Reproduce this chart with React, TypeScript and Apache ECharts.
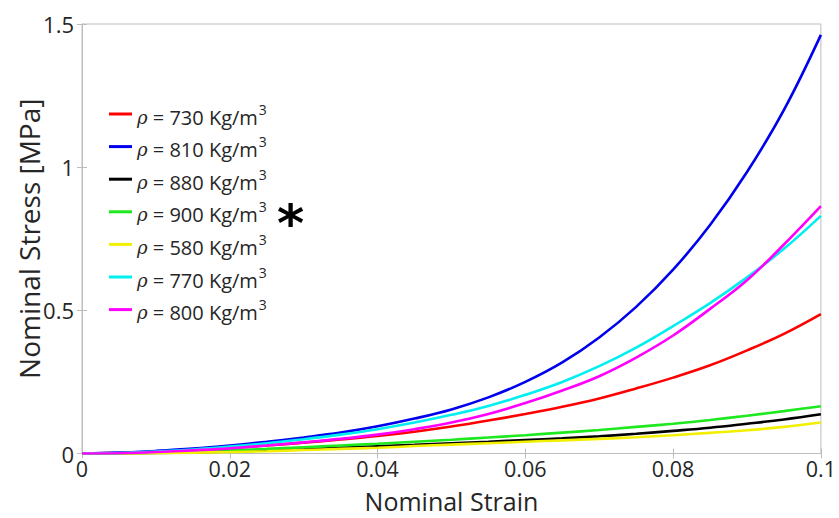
import React, { useEffect, useRef } from "react";
import * as echarts from "echarts";

const strain = [0, 0.005, 0.01, 0.015, 0.02, 0.025, 0.03, 0.035, 0.04, 0.045, 0.05, 0.055, 0.06, 0.065, 0.07, 0.075, 0.08, 0.085, 0.09, 0.095, 0.1];

const names = ["730", "810", "880", "900", "580", "770", "800"];
const colors = ["#ff0000", "#0000ee", "#000000", "#1ee81e", "#f2f000", "#00f0f0", "#ff00ff"];

const s730 = [0, 0.002, 0.006, 0.012, 0.019, 0.028, 0.038, 0.049, 0.061, 0.076, 0.094, 0.115, 0.138, 0.163, 0.192, 0.227, 0.265, 0.308, 0.36, 0.418, 0.487];
const s810 = [0, 0.003, 0.009, 0.017, 0.028, 0.041, 0.056, 0.073, 0.095, 0.122, 0.154, 0.196, 0.25, 0.318, 0.405, 0.512, 0.642, 0.798, 0.983, 1.2, 1.462];
const s880 = [0, 0.001, 0.002, 0.004, 0.007, 0.011, 0.015, 0.02, 0.025, 0.03, 0.036, 0.041, 0.047, 0.053, 0.06, 0.069, 0.079, 0.09, 0.104, 0.119, 0.137];
const s900 = [0, 0.001, 0.003, 0.007, 0.011, 0.016, 0.022, 0.028, 0.034, 0.041, 0.048, 0.056, 0.064, 0.073, 0.082, 0.093, 0.104, 0.117, 0.132, 0.148, 0.165];
const s580 = [0, 0, 0.001, 0.003, 0.005, 0.008, 0.012, 0.016, 0.02, 0.026, 0.031, 0.036, 0.041, 0.046, 0.051, 0.057, 0.064, 0.072, 0.081, 0.093, 0.108];
const s770 = [0, 0.002, 0.007, 0.014, 0.024, 0.036, 0.05, 0.066, 0.085, 0.108, 0.135, 0.166, 0.205, 0.25, 0.305, 0.37, 0.445, 0.525, 0.615, 0.715, 0.83];
const s800 = [0, 0.001, 0.005, 0.011, 0.018, 0.028, 0.039, 0.051, 0.066, 0.085, 0.108, 0.138, 0.176, 0.22, 0.27, 0.335, 0.412, 0.505, 0.605, 0.73, 0.864];

const seriesValues = [s730, s810, s880, s900, s580, s770, s800];

const xTicks = [0, 0.02, 0.04, 0.06, 0.08, 0.1];
const yTicks = [0, 0.5, 1, 1.5];

const FONT = "Open Sans";
const TXT = "#262626";
const FRAME = "#bdbdbd";

export default function App() {
  const ref = useRef<HTMLDivElement>(null);
  useEffect(() => {
    if (!ref.current) return;
    const chart = echarts.init(ref.current, null, { renderer: "svg" });
    const labelFmtX = (v: number) => {
      const t = xTicks.find((k) => Math.abs(k - v) < 1e-9);
      return t === undefined ? "" : String(t);
    };
    const labelFmtY = (v: number) => {
      const t = yTicks.find((k) => Math.abs(k - v) < 1e-9);
      return t === undefined ? "" : String(t);
    };
    const tickStyle = { show: true, inside: true, length: 5, lineStyle: { color: FRAME } };
    chart.setOption({
      animation: false,
      backgroundColor: "#ffffff",
      grid: { left: 82, right: 16, top: 24, bottom: 63, show: true, borderColor: FRAME, borderWidth: 1 },
      legend: {
        orient: "vertical",
        left: 104,
        top: 96,
        icon: "rect",
        itemWidth: 23,
        itemHeight: 3,
        itemGap: 6.6,
        data: names.map((n) => "ρ = " + n),
        formatter: (name: string) => "{i|ρ}{a| = " + name.slice(4) + " Kg/m}{s|3}",
        textStyle: {
          fontFamily: FONT,
          color: TXT,
          rich: {
            i: { fontFamily: "DejaVu Serif", fontStyle: "italic", fontSize: 18, color: TXT, lineHeight: 24, padding: [6, 0, 0, 0] },
            a: { fontFamily: FONT, fontSize: 20, color: TXT, lineHeight: 24, padding: [6, 0, 0, 0] },
            s: { fontFamily: FONT, fontSize: 14, color: TXT, verticalAlign: "top", lineHeight: 14, padding: [0, 0, 0, 1] },
          },
        },
      },
      xAxis: [
        {
          type: "value",
          min: 0,
          max: 0.1,
          interval: 0.02,
          name: "Nominal Strain",
          nameLocation: "middle",
          nameGap: 35,
          nameTextStyle: { fontFamily: FONT, fontSize: 25, color: TXT, lineHeight: 24 },
          axisLine: { show: true, lineStyle: { color: FRAME } },
          axisTick: tickStyle,
          axisLabel: { fontFamily: FONT, fontSize: 21.5, color: TXT, margin: 5, lineHeight: 20, formatter: labelFmtX },
          splitLine: { show: false },
        },
        {
          type: "value",
          position: "top",
          min: 0,
          max: 0.1,
          interval: 0.02,
          axisLine: { show: true, lineStyle: { color: FRAME } },
          axisTick: tickStyle,
          axisLabel: { show: false },
          splitLine: { show: false },
        },
      ],
      yAxis: [
        {
          type: "value",
          min: 0,
          max: 1.5,
          interval: 0.5,
          name: "Nominal Stress [MPa]",
          nameLocation: "middle",
          nameGap: 39,
          nameMoveOverlap: false,
          nameTextStyle: { fontFamily: FONT, fontSize: 28, color: TXT },
          axisLine: { show: true, lineStyle: { color: FRAME } },
          axisTick: tickStyle,
          axisLabel: { fontFamily: FONT, fontSize: 22, color: TXT, margin: 8, formatter: labelFmtY },
          splitLine: { show: false },
        },
        {
          type: "value",
          position: "right",
          min: 0,
          max: 1.5,
          interval: 0.5,
          axisLine: { show: true, lineStyle: { color: FRAME } },
          axisTick: tickStyle,
          axisLabel: { show: false },
          splitLine: { show: false },
        },
      ],
      graphic: [
        {
          type: "text",
          left: 277,
          top: 197,
          style: { text: "*", font: "bold 52px 'DejaVu Sans'", fill: "#000000" },
        },
      ],
      series: seriesValues.map((vals, i) => ({
        name: "ρ = " + names[i],
        type: "line",
        xAxisIndex: 0,
        yAxisIndex: 0,
        smooth: 0.4,
        symbol: "none",
        color: colors[i],
        lineStyle: { width: 2.6, color: colors[i] },
        data: strain.map((x, k) => [x, vals[k]]),
      })),
    });
    return () => chart.dispose();
  }, []);
  return <div ref={ref} style={{ position: "fixed", left: 0, top: 0, width: 839, height: 518 }} />;
}
